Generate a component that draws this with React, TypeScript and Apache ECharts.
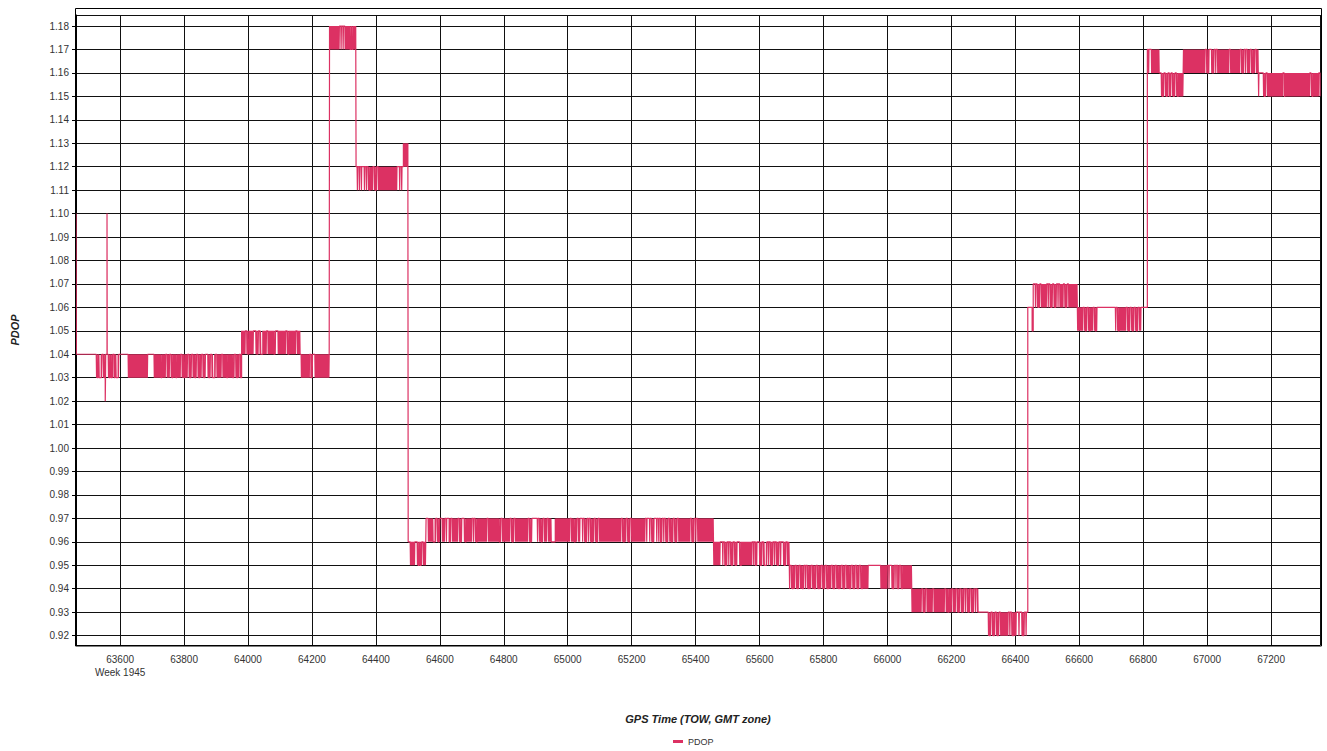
import React, { useEffect, useRef } from "react";
import * as echarts from "echarts";

// ---- axis extents and labels ----
const xMin = 63462;
const xMax = 67353;
const yMin = 0.916;
const yMax = 1.1847;
const weekTick = 63600;
const weekLabel = "Week 1945";
const seriesName = "PDOP";
const xTitle = "GPS Time (TOW, GMT zone)";
const yTitle = "PDOP";

// ---- isolated points (time, PDOP) ----
const startPoints: [number, number][] = [[63462, 1.1]];
const spikePoints: [number, number][] = [
  [63553.5, 1.02],
  [63555, 1.04],
  [63559, 1.1],
  [63560.5, 1.04],
];
const endPoints: [number, number][] = [[67353, 1.15]];

// ---- PDOP bands: time span, [low, high] levels, and the switching pattern
// read column by column ('h' = high level, 'l' = low level, '#' = rapid switching)
const bandSpans: [number, number][] = [
  [63463, 63980],
  [63980, 64163],
  [64163, 64255],
  [64255, 64338],
  [64338, 64486],
  [64486, 64501],
  [64501, 64557],
  [64557, 65456],
  [65456, 65693],
  [65693, 66076],
  [66076, 66293],
  [66293, 66439],
  [66439, 66456],
  [66456, 66594],
  [66594, 66813],
  [66813, 66850],
  [66850, 66926],
  [66926, 67160],
  [67160, 67353],
];

const bandLevels: [number, number][] = [
  [1.03, 1.04],
  [1.04, 1.05],
  [1.03, 1.04],
  [1.17, 1.18],
  [1.11, 1.12],
  [1.12, 1.13],
  [0.95, 0.96],
  [0.96, 0.97],
  [0.95, 0.96],
  [0.94, 0.95],
  [0.93, 0.94],
  [0.92, 0.93],
  [1.05, 1.06],
  [1.06, 1.07],
  [1.05, 1.06],
  [1.16, 1.17],
  [1.15, 1.16],
  [1.16, 1.17],
  [1.15, 1.16],
];

const bandPatterns: string[] = [
  "hhhhhhhhhhhhhhhhhhhh" + "#l#ll#h#l#hh#l#l#hl#ll#hh" + "hhhhhhh" + "####################" + "hhhhhh" +
    "#######l####h##" + "#h#l###l" + "####h##l##" + "#h#l#h##l#h#l##" + "h#l#hh#l#h#ll#h" + "#####h####l####" + "#l#h#l##hl",
  "####" + "h#l#" + "####" + "hh#l" + "#h#l" + "l###" + "#h##" + "####" + "l#hh" + "####" + "####" + "h#l#" + "####" + "##h#" + "##",
  "h#########" + "hl#hh" + "###############",
  "##########" + "h#h#h#" + "####" + "l#l" + "###",
  "h#h#h#hh#h#h#" + "l###h" + "#l#h" + "###################" + "hh#h#h",
  "#####",
  "hh#####hh#l#l#h###",
  "hh" + "#####" + "ll" + "#h#l#" + "hh" + "###h#" + "hhl" + "#h######" + "h#l#" + "hh#" + "l######" + "h#h#l" +
    "##########h###########l" + "#h#" + "#######" + "h#l#h" + "############" + "#h#l#" + "hhhhh" + "#h##l#h###h" +
    "###l" + "lll" + "#############" + "##h###l##h##" + "hh" + "#h#l#h#h#l##h#l#h#" + "####################" +
    "#h#l##h#l#h##" + "############" + "h#hh#h#l#hh#h#hl#h" + "#h#l#h##l#h#l#h##" + "##########" + "h#l#h#h" + "################",
  "#######" + "hh" + "#h#l#h#h#l#" + "h#l#hh#l#" + "##########" + "h#hl#hh" + "#l#h#ll" + "#h#h#l#h#h" + "#l#h#hh#l#h##",
  "#h#l##h#" + "l#h##l#h#h#l#" + "#h##l#h#l##h#l#" + "h#l###h#l#h##l#" + "#h#l#h###l#h#l#" + "h#l#h#l" + "######" +
    "hhhhhhhhhhhh" + "#######" + "h#hh" + "#l#h#h" + "l#h#l#" + "########",
  "##########" + "h#l#h#" + "#####" + "h#" + "#########" + "#h##l###h##" + "#h#l#h#l" + "#h#h#l#" + "h#l#h#h" + "#lll",
  "hhhhhhh" + "#l#h#l#" + "h#l#h##" + "######" + "h#h#" + "l###" + "hh#hh" + "#l#h#h",
  "hhhhl",
  "hh" + "#h#l#h" + "######" + "h#h#l#" + "h#l#h#h" + "####" + "h#l#" + "h#########",
  "######" + "h#l#h#l" + "###h#l#" + "hhhhhhhhhhhhhhhhhh" + "#h#l#" + "######" + "h#l#h#" + "l#h#l#h#" + "#hh" + "hhhh",
  "h#hh########",
  "hh#l#h#l#hl#h#l#h#l#####",
  "######################" + "h#l#hh#" + "l#h#h#" + "###########h##########" + "h#l#h#h#" + "##h#l##h##",
  "#hhhh" + "#l#h" + "################" + "hl" + "#########################" + "h#l#" + "#####h",
];

const lineColor = "#dc3163";

function buildData(): [number, number][] {
  const pts: [number, number][] = [...startPoints];
  bandSpans.forEach(([t0, t1], b) => {
    const [lo, hi] = bandLevels[b];
    const pat = bandPatterns[b];
    const dt = (t1 - t0) / pat.length;
    for (let i = 0; i < pat.length; i++) {
      const t = t0 + i * dt;
      const c = pat[i];
      if (c === "h") pts.push([t, hi]);
      else if (c === "l") pts.push([t, lo]);
      else {
        pts.push([t, hi]);
        pts.push([t + dt / 3, lo]);
        pts.push([t + (2 * dt) / 3, hi]);
      }
    }
  });
  pts.push(...spikePoints, ...endPoints);
  pts.sort((a, b) => a[0] - b[0]);
  return pts;
}

export default function App() {
  const ref = useRef<HTMLDivElement>(null);

  useEffect(() => {
    if (!ref.current) return;
    const chart = echarts.init(ref.current, undefined, { renderer: "svg" });
    const data = buildData();
    const font = "'Liberation Sans', Arial, sans-serif";
    chart.setOption({
      animation: false,
      backgroundColor: "#ffffff",
      textStyle: { fontFamily: font },
      grid: { left: 76, right: 7, top: 15, bottom: 106, containLabel: false },
      legend: {
        data: [seriesName],
        left: 673,
        top: 737,
        padding: 0,
        itemWidth: 10,
        itemHeight: 3,
        icon: "rect",
        textStyle: { fontSize: 9, color: "#333", fontFamily: font },
      },
      xAxis: {
        type: "value",
        min: xMin,
        max: xMax,
        splitNumber: 19,
        name: xTitle,
        nameLocation: "middle",
        nameGap: 68,
        nameTextStyle: { fontWeight: "bold", fontStyle: "italic", fontSize: 11, color: "#222", fontFamily: font },
        axisLine: { show: true, lineStyle: { color: "#000", width: 1 } },
        axisTick: { show: false },
        axisLabel: {
          showMinLabel: false,
          showMaxLabel: false,
          fontSize: 10,
          color: "#333",
          margin: 8,
          lineHeight: 13,
          fontFamily: font,
          formatter: (v: number) => (v === weekTick ? `${v}\n${weekLabel}` : String(v)),
        },
        splitLine: { show: true, lineStyle: { color: "#111", width: 1 } },
      },
      yAxis: {
        type: "value",
        min: yMin,
        max: yMax,
        splitNumber: 27,
        name: yTitle,
        nameLocation: "middle",
        nameGap: 56,
        nameTextStyle: { fontWeight: "bold", fontStyle: "italic", fontSize: 11, color: "#222", fontFamily: font },
        axisLine: { show: true, lineStyle: { color: "#000", width: 1 } },
        axisTick: { show: true, length: 4, lineStyle: { color: "#000" } },
        axisLabel: {
          showMinLabel: false,
          showMaxLabel: false,
          fontSize: 10,
          color: "#333",
          margin: 7,
          fontFamily: font,
          formatter: (v: number) => v.toFixed(2),
        },
        splitLine: { show: true, lineStyle: { color: "#111", width: 1 } },
      },
      graphic: [
        {
          type: "rect",
          silent: true,
          z: 100,
          shape: { x: 75.5, y: 8.5, width: 1246, height: 637.5 },
          style: { fill: "none", stroke: "#000", lineWidth: 1 },
        },
      ],
      series: [
        {
          name: seriesName,
          type: "line",
          step: "end",
          data,
          symbol: "none",
          showSymbol: false,
          lineStyle: { color: lineColor, width: 1.2 },
          itemStyle: { color: lineColor },
          z: 5,
        },
      ],
    });
    return () => chart.dispose();
  }, []);

  return (
    <div
      ref={ref}
      style={{ position: "fixed", left: 0, top: 0, width: 1327, height: 751, background: "#fff" }}
    />
  );
}
